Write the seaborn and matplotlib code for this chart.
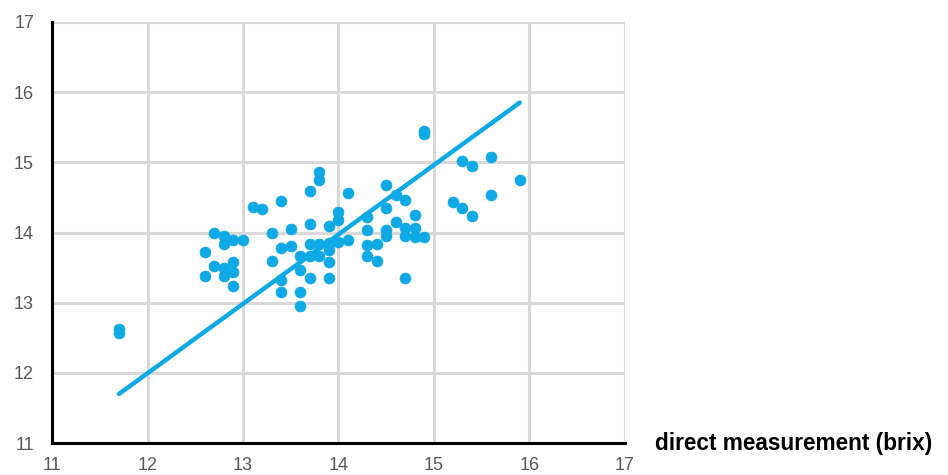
import numpy as np
import pandas as pd
import matplotlib
matplotlib.use("Agg")
import matplotlib.pyplot as plt
import seaborn as sns

direct = [11.7, 11.7,
          12.6, 12.6,
          12.7, 12.7,
          12.8, 12.8, 12.8, 12.8,
          12.9, 12.9, 12.9, 12.9,
          13.0,
          13.1,
          13.2,
          13.3, 13.3,
          13.4, 13.4, 13.4, 13.4,
          13.5, 13.5,
          13.6, 13.6, 13.6, 13.6,
          13.7, 13.7, 13.7, 13.7, 13.7,
          13.8, 13.8, 13.8, 13.8,
          13.9, 13.9, 13.9, 13.9, 13.9,
          14.0, 14.0, 14.0,
          14.1, 14.1,
          14.3, 14.3, 14.3, 14.3,
          14.4, 14.4,
          14.5, 14.5, 14.5, 14.5,
          14.6, 14.6,
          14.7, 14.7, 14.7, 14.7,
          14.8, 14.8, 14.8,
          14.9, 14.9, 14.9,
          15.2,
          15.3, 15.3,
          15.4, 15.4,
          15.6, 15.6,
          15.9]
predicted = [12.57, 12.62,
             13.72, 13.38,
             13.99, 13.52,
             13.95, 13.83, 13.49, 13.38,
             13.89, 13.58, 13.44, 13.24,
             13.89,
             14.36,
             14.33,
             14.00, 13.60,
             14.45, 13.78, 13.32, 13.15,
             14.05, 13.81,
             13.66, 13.46, 13.15, 12.95,
             14.59, 14.12, 13.83, 13.66, 13.35,
             14.86, 14.75, 13.83, 13.66,
             14.09, 13.85, 13.75, 13.58, 13.35,
             14.29, 14.18, 13.86,
             14.56, 13.89,
             14.22, 14.03, 13.82, 13.66,
             13.83, 13.60,
             14.68, 14.35, 14.03, 13.95,
             14.53, 14.15,
             14.46, 14.06, 13.95, 13.35,
             14.25, 14.06, 13.93,
             15.44, 15.40, 13.93,
             14.43,
             15.02, 14.35,
             14.95, 14.23,
             15.07, 14.53,
             14.75]

fit_x = [11.7, 15.9]
fit_y = [11.7, 15.85]

ticks = [11, 12, 13, 14, 15, 16, 17]

blue = "#0FA9E6"

sns.set_style("whitegrid")
plt.rcParams["font.family"] = ["Liberation Sans", "DejaVu Sans"]

fig = plt.figure(figsize=(9.48, 4.75), dpi=100)
ax = fig.add_axes([0.055, 0.067, 0.604, 0.887])

df = pd.DataFrame({"direct": direct, "predicted": predicted})
sns.lineplot(x=fit_x, y=fit_y, ax=ax, color=blue, linewidth=3.2, zorder=2)
sns.scatterplot(data=df, x="direct", y="predicted", ax=ax, color=blue,
                marker="o", s=62, edgecolor=blue, linewidth=0.5, zorder=3)

ax.set_xlim(11, 17)
ax.set_ylim(11, 17)
ax.set_xticks(ticks)
ax.set_yticks(ticks)
ax.grid(True, color="#D9D9D9", linewidth=2.2)
ax.set_axisbelow(True)
for side in ["top", "right"]:
    ax.spines[side].set_visible(False)
for side in ["left", "bottom"]:
    ax.spines[side].set_visible(True)
    ax.spines[side].set_color("black")
    ax.spines[side].set_linewidth(2.2)
ax.tick_params(axis="both", length=0, labelsize=13, labelcolor="#595959")
ax.tick_params(axis="x", pad=10)
ax.tick_params(axis="y", pad=13)
ax.set_xlabel("")
ax.set_ylabel("")

fig.text(0.691, 0.067, "direct measurement (brix)", fontsize=16.3,
         fontweight="bold", va="center", ha="left", color="black")

fig.savefig("out.png", dpi=100)
